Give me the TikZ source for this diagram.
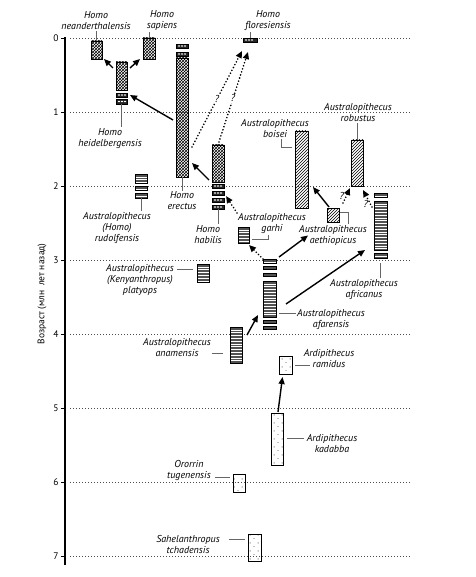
\documentclass[tikz,border=0pt]{standalone}
\usepackage{fontspec}
\setmainfont{PT Sans}
\usetikzlibrary{arrows.meta,patterns}

\pgfdeclarepatternformonly{sparse dots}{\pgfqpoint{-1pt}{-1pt}}{\pgfqpoint{9pt}{9pt}}{\pgfqpoint{8pt}{8pt}}{%
  \pgfpathcircle{\pgfqpoint{2pt}{2pt}}{0.5pt}%
  \pgfpathcircle{\pgfqpoint{6pt}{6.5pt}}{0.45pt}%
  \pgfusepath{fill}}

\tikzset{
  box/.style={draw, line width=0.9pt, inner sep=0pt, outer sep=0pt, anchor=north west},
  homo/.style={box, pattern=crosshatch},
  frag/.style={box, fill=black!85, path picture={
    \foreach \k in {3,6,9}
      \fill[white] ([xshift=\k pt]path picture bounding box.west) ellipse (1.1pt and 0.8pt);}},
  robust/.style={box, pattern=north east lines},
  gracile/.style={box, fill=black!68, path picture={
    \foreach \k in {1,...,30}
      \draw[white, line width=0.55pt] ([yshift=-\k*2.8pt]path picture bounding box.north west)
        -- ([yshift=-\k*2.8pt]path picture bounding box.north east);}},
  ardi/.style={box, pattern=sparse dots},
  taxon/.style={font=\itshape\fontsize{10}{11}\selectfont, align=center, inner sep=1pt},
  tick/.style={font=\fontsize{9.5}{10}\selectfont, inner sep=1pt},
  query/.style={font=\itshape\fontsize{10}{10}\selectfont, inner sep=0.5pt},
  leader/.style={draw=black!60, line width=0.5pt},
  evo/.style={line width=1.4pt, -{Triangle[length=7pt,width=6pt]}},
  maybe/.style={evo, line cap=round, dash pattern=on 0pt off 3.2pt, line width=1.8pt},
  gridline/.style={black!70, line width=0.5pt, dash pattern=on 1pt off 2pt}
}

\begin{document}
\begin{tikzpicture}[x=1pt,y=-1pt]
\useasboundingbox (0,0) rectangle (475,577);

% time scale
\foreach \age in {0,...,7} {
  \draw[gridline] (70,38.5+74*\age) -- (410,38.5+74*\age);
  \draw[line width=0.8pt] (61,38.5+74*\age) -- (65,38.5+74*\age);
  \node[tick] (t\age) at (56,38.5+74*\age) {\age};
}
\draw[line width=2.5pt] (65,37) -- (65,565);
\node[rotate=90, font=\fontsize{9.5}{10}\selectfont] (agelbl) at (42,294) {Возраст (млн\enspace лет назад)};

% Homo
\node[homo, minimum width=11, minimum height=18] (nean) at (91,41) {};
\node[homo, minimum width=12, minimum height=21] (sap) at (143,38) {};
\node[homo, minimum width=11, minimum height=28] (heid) at (116,62) {};
\node[frag, minimum width=11, minimum height=4] (heid1) at (116,93) {};
\node[frag, minimum width=11, minimum height=5] (heid2) at (116,99) {};
\node[frag, minimum width=12, minimum height=4] (erec1) at (176,44) {};
\node[frag, minimum width=12, minimum height=4] (erec2) at (176,52) {};
\node[homo, minimum width=12, minimum height=119] (erec) at (176,58) {};
\node[homo, minimum width=12, minimum height=37] (hab) at (212,145) {};
\foreach \i/\y in {1/184,2/191,3/198,4/205}
  \node[frag, minimum width=12, minimum height=4] (hab\i) at (212,\y) {};
\node[frag, minimum width=14, minimum height=4] (flor) at (243,38) {};

% gracile australopithecines
\node[gracile, minimum width=12, minimum height=9] (rud1) at (135,174) {};
\node[gracile, minimum width=12, minimum height=4] (rud2) at (135,186) {};
\node[gracile, minimum width=12, minimum height=5] (rud3) at (135,193) {};
\node[gracile, minimum width=12, minimum height=18] (platy) at (197,264) {};
\node[gracile, minimum width=12, minimum height=36] (anam) at (230,327) {};
\node[gracile, minimum width=11, minimum height=16] (garhi) at (238,227) {};
\node[gracile, minimum width=13, minimum height=4] (afar1) at (263,259) {};
\node[gracile, minimum width=13, minimum height=3] (afar2) at (263,266) {};
\node[gracile, minimum width=13, minimum height=3] (afar3) at (263,273) {};
\node[gracile, minimum width=13, minimum height=36] (afar) at (263,281) {};
\node[gracile, minimum width=13, minimum height=3] (afar4) at (263,320) {};
\node[gracile, minimum width=13, minimum height=3] (afar5) at (263,326) {};
\node[gracile, minimum width=13, minimum height=4] (afri1) at (374,193) {};
\node[gracile, minimum width=13, minimum height=49] (afri) at (374,201) {};
\node[gracile, minimum width=13, minimum height=5] (afri2) at (374,253) {};

% robust australopithecines
\node[robust, minimum width=12, minimum height=14] (aeth) at (327,208) {};
\node[robust, minimum width=13, minimum height=77] (bois) at (295,131) {};
\node[robust, minimum width=12, minimum height=46] (robu) at (351,140) {};

% early hominins
\node[ardi, minimum width=13, minimum height=18] (rami) at (279,356) {};
\node[ardi, minimum width=12, minimum height=52] (kada) at (271,413) {};
\node[ardi, minimum width=12, minimum height=18] (oror) at (233,474) {};
\node[ardi, minimum width=13, minimum height=27] (sahe) at (248,534) {};

% labels
\node[taxon] (neanL) at (96,21) {Homo\\neanderthalensis};
\node[taxon] (sapL) at (162,21) {Homo\\sapiens};
\node[taxon] (heidL) at (110,138.5) {Homo\\heidelbergensis};
\node[taxon] (florL) at (268,20.5) {Homo\\floresiensis};
\node[taxon] (erecL) at (182,201) {Homo\\erectus};
\node[taxon] (habL) at (208,234.5) {Homo\\habilis};
\node[taxon] (rudL) at (117,228) {Australopithecus\\(Homo)\\rudolfensis};
\node[taxon] (platyL) at (140,280) {Australopithecus\\(Kenyanthropus)\\platyops};
\node[taxon] (anamL) at (177,347.5) {Australopithecus\\anamensis};
\node[taxon] (garhiL) at (272,223.5) {Australopithecus\\garhi};
\node[taxon] (afarL) at (331,319.5) {Australopithecus\\afarensis};
\node[taxon] (aethL) at (333,235.5) {Australopithecus\\aethiopicus};
\node[taxon] (boisL) at (275,128.5) {Australopithecus\\boisei};
\node[taxon] (robuL) at (358,112.5) {Australopithecus\\robustus};
\node[taxon] (afriL) at (364,289.5) {Australopithecus\\africanus};
\node[taxon] (ramiL) at (329,358.5) {Ardipithecus\\ramidus};
\node[taxon] (kadaL) at (332,444) {Ardipithecus\\kadabba};
\node[taxon] (ororL) at (189,470) {Ororrin\\tugenensis};
\node[taxon] (saheL) at (188,544) {Sahelanthropus\\tchadensis};

% leader lines
\draw[leader] (nean.north) -- (nean.north |- neanL.south);
\draw[leader] (sap.north) -- (sap.north |- sapL.south);
\draw[leader] (heid2.south) -- (heid2.south |- heidL.north);
\draw[leader] (flor.north) -- (flor.north |- florL.south);
\draw[leader] (erec.south) -- (erec.south |- erecL.north);
\draw[leader] (hab4.south) -- (hab4.south |- habL.north);
\draw[leader] (rud3.south) -- (rud3.south |- rudL.north);
\draw[leader] ([xshift=-4,yshift=4]platy.west) -- ([xshift=2,yshift=4]platy.west -| platyL.east);
\draw[leader] ([xshift=-7,yshift=-8]anam.west) -- ([yshift=-8]anam.west -| anamL.east);
\draw[leader] ([xshift=3,yshift=-4]garhi.east) -| ([xshift=-4]garhiL.south);
\draw[leader] ([xshift=3,yshift=-14]afar.east) -- ([yshift=-14]afar.east -| afarL.west);
\draw[leader] ([xshift=1,yshift=3]aeth.east) -| ([xshift=15]aethL.north);
\draw[leader] ([xshift=6]boisL.south) |- ([xshift=-3,yshift=-16]bois.north west);
\draw[leader] (robu.north) -- (robu.north |- robuL.south);
\draw[leader] ([yshift=-5]afri2.south) -- (afri2.south |- afriL.north);
\draw[leader] ([xshift=3]rami.east) -- ([xshift=7]rami.east -| ramiL.west);
\draw[leader] ([xshift=4,yshift=1]kada.east) -- ([xshift=-2,yshift=1]kada.east -| kadaL.west);
\draw[leader] ([xshift=-3,yshift=6]oror.west) -- ([xshift=3,yshift=6]oror.west -| ororL.east);
\draw[leader] ([xshift=-3,yshift=8]sahe.west) -- ([xshift=8,yshift=8]sahe.west -| saheL.east);

% lines of descent
\draw[evo] ([xshift=-3,yshift=-6]heid.north west) -- ([xshift=2]nean.south east);
\draw[evo] ([xshift=3,yshift=-6]heid.north east) -- ([xshift=-3]sap.south west);
\draw[evo] ([xshift=-3,yshift=-2.5]erec.west) -- ([xshift=3]heid1.east);
\draw[evo] ([xshift=-3,yshift=2]hab.south west) -- ([xshift=4,yshift=14]erec.south east);
\draw[maybe] ([xshift=4,yshift=30]erec.south east) -- node[query, fill=white]{?} ([xshift=-1,yshift=-9]flor.south west);
\draw[maybe] (hab.north) -- node[query, fill=white]{?} ([xshift=-2,yshift=-10]flor.south);
\draw[maybe] ([xshift=-1,yshift=14]garhi.north west) -- ([xshift=2,yshift=2]hab3.north east);
\draw[maybe] (afar1.north west) -- ([yshift=-2]garhi.south east);
\draw[evo] ([xshift=5,yshift=-8]anam.north east) -- ([xshift=-5,yshift=2]afar.south west);
\draw[evo] ([xshift=3,yshift=2]afar1.north east) -- ([xshift=10]aethL.west);
\draw[evo] ([xshift=10,yshift=-5]afar.east) -- ([xshift=-9]afri.south west);
\draw[evo] ([xshift=2,yshift=1]aeth.north west) -- ([xshift=5,yshift=21]bois.south east);
\draw[maybe] ([xshift=4,yshift=5]aeth.north east) -- node[query, pos=0.45, left=1pt]{?} ([xshift=-1,yshift=-2]robu.south west);
\draw[maybe] ([xshift=-2,yshift=-6]afri.north west) -- node[query, pos=0.2, left=1pt]{?} ([yshift=-4]robu.south east);
\draw[evo] ([xshift=1,yshift=1]kada.north) -- ([xshift=-3,yshift=-3]rami.south);
\end{tikzpicture}
\end{document}
